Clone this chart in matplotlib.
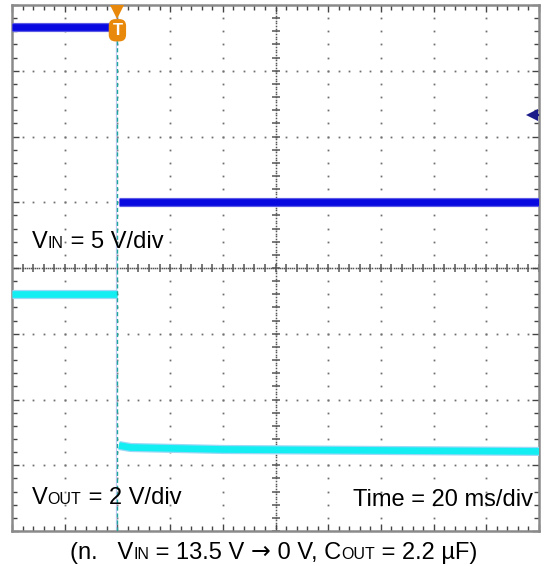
import numpy as np
import matplotlib
matplotlib.use('Agg')
import matplotlib.pyplot as plt
import matplotlib.transforms as mtransforms

plt.rcParams['font.family'] = ['Liberation Sans', 'DejaVu Sans']

# scope settings (10 x 8 divisions)
t_per_div = 20          # ms/div
t_start, t_end = -40, 160
vin_scale, vin_ground = 5.0, 5.0     # V/div, ground position in div
vout_scale, vout_ground = 2.0, 1.0

# VIN trace (ms, V)
vin_pre_t = [-40, 0]
vin_pre_v = [13.3, 13.3]
vin_post_t = [0.6, 160]
vin_post_v = [0.0, 0.0]

# VOUT trace (ms, V)
vout_pre_t = [-40, 0]
vout_pre_v = [5.2, 5.2]
vout_post_t = [0.6, 5, 40, 100, 160]
vout_post_v = [0.60, 0.54, 0.48, 0.45, 0.42]

trig_level_div = 6.33

VIN_COL = '#0808e0'
VOUT_COL = '#12eef2'
TRIG_COL = '#e8890c'


def vin_div(v):
    return vin_ground + np.asarray(v) / vin_scale


def vout_div(v):
    return vout_ground + np.asarray(v) / vout_scale


fig = plt.figure(figsize=(5.46, 5.66), dpi=100)
ax = fig.add_axes([12 / 546, 1 - 531 / 566, 527 / 546, 526 / 566])
ax.set_xlim(t_start, t_end)
ax.set_ylim(0, 8)

# grid dots
minor_x = np.arange(t_start, t_end + 0.01, t_per_div / 5)
minor_y = np.arange(0, 8.01, 0.2)
for gx in np.arange(t_start + t_per_div, t_end, t_per_div):
    if gx == 60:
        continue
    ax.plot(np.full_like(minor_y, gx), minor_y, ls='none', marker='s', ms=1.3,
            mew=0, color='#707070', zorder=1)
for gy in range(1, 8):
    if gy == 4:
        continue
    ax.plot(minor_x, np.full_like(minor_x, gy), ls='none', marker='s', ms=1.3,
            mew=0, color='#707070', zorder=1)

# center cross
dense_x = np.arange(t_start, t_end + 0.01, t_per_div / 25)
dense_y = np.arange(0, 8.01, 0.04)
ax.plot(dense_x, np.full_like(dense_x, 4), ls='none', marker='s', ms=1.1, mew=0,
        color='#555555', zorder=1)
ax.plot(np.full_like(dense_y, 60), dense_y, ls='none', marker='s', ms=1.1, mew=0,
        color='#555555', zorder=1)
ax.plot(minor_x, np.full_like(minor_x, 4), ls='none', marker='|', ms=6, mew=1.1,
        color='#555555', zorder=1)
ax.plot(np.full_like(minor_y, 60), minor_y, ls='none', marker='_', ms=6, mew=1.1,
        color='#555555', zorder=1)

# frame
ax.set_xticks(np.arange(t_start, t_end + 1, t_per_div))
ax.set_xticks(minor_x, minor=True)
ax.set_yticks(range(0, 9))
ax.set_yticks(minor_y, minor=True)
ax.tick_params(which='both', direction='in', top=True, right=True,
               labelbottom=False, labelleft=False, color='#444444', width=1)
ax.tick_params(which='major', length=5)
ax.tick_params(which='minor', length=3.5)
for sp in ax.spines.values():
    sp.set_color('#8a8a8a')
    sp.set_linewidth(1.8)

# trigger position line
ax.axvline(-0.4, color='#c4caf2', lw=0.9, zorder=2)
ax.axvline(0, color='#1ea89c', lw=1.0, ls=(0, (3, 2)), zorder=4)

# traces
for t, v, col, fuzz in [(vin_pre_t, vin_div(vin_pre_v), VIN_COL, '#5c5ce6'),
                        (vin_post_t, vin_div(vin_post_v), VIN_COL, '#5c5ce6'),
                        (vout_pre_t, vout_div(vout_pre_v), VOUT_COL, '#9ad8f6'),
                        (vout_post_t, vout_div(vout_post_v), VOUT_COL, '#9ad8f6')]:
    ax.plot(t, v, color=fuzz, lw=6.6, solid_capstyle='butt', zorder=3)
    ax.plot(t, v, color=col, lw=4.8, solid_capstyle='butt', zorder=3)

# trigger marker
trans = mtransforms.blended_transform_factory(ax.transData, ax.transAxes)
ax.plot([0], [0.987], marker='v', ms=10, color=TRIG_COL, mew=0, transform=trans,
        clip_on=False, zorder=6)
ax.text(0, 0.952, 'T', transform=trans, ha='center', va='center', color='white',
        fontsize=12, fontweight='bold', zorder=6,
        bbox=dict(boxstyle='round,pad=0.22,rounding_size=0.4', fc=TRIG_COL, ec='none'))

# trigger level arrow at right edge
ax.plot([t_end - 2.8], [trig_level_div], marker='<', ms=8, color='#1b1b8a', mew=0,
        clip_on=False, zorder=6)
ax.plot([t_end - 2.8, t_end - 0.3], [trig_level_div, trig_level_div], color='#1b1b8a',
        lw=1.6, clip_on=False, zorder=6)


def rich_text(x_px, y_px, parts):
    renderer = fig.canvas.get_renderer()
    offset = 0.0
    for part in parts:
        s, size = part[0], part[1]
        family = part[2] if len(part) > 2 else None
        tr = mtransforms.offset_copy(fig.transFigure, fig=fig, x=offset, y=0, units='dots')
        t = fig.text(x_px / 546, 1 - y_px / 566, s, fontsize=size, transform=tr,
                     ha='left', va='baseline', color='black', zorder=10)
        if family:
            t.set_family(family)
        offset += t.get_window_extent(renderer).width


big, small = 17, 11.5
rich_text(32, 248, [('V', big), ('IN', small), (' = 5 V/div', big)])
rich_text(32, 504, [('V', big), ('OUT', small), (' = 2 V/div', big)])
rich_text(353, 506, [('Time = 20 ms/div', big)])
cap, capsmall = 17, 11.5
rich_text(70, 559, [('(n.   V', cap), ('IN', capsmall), (' = 13.5 V ', cap),
                    ('\u2192', cap, 'DejaVu Sans'), (' 0 V, C', cap),
                    ('OUT', capsmall), (' = 2.2 \u00b5F)', cap)])

fig.savefig('out.png', dpi=100)
